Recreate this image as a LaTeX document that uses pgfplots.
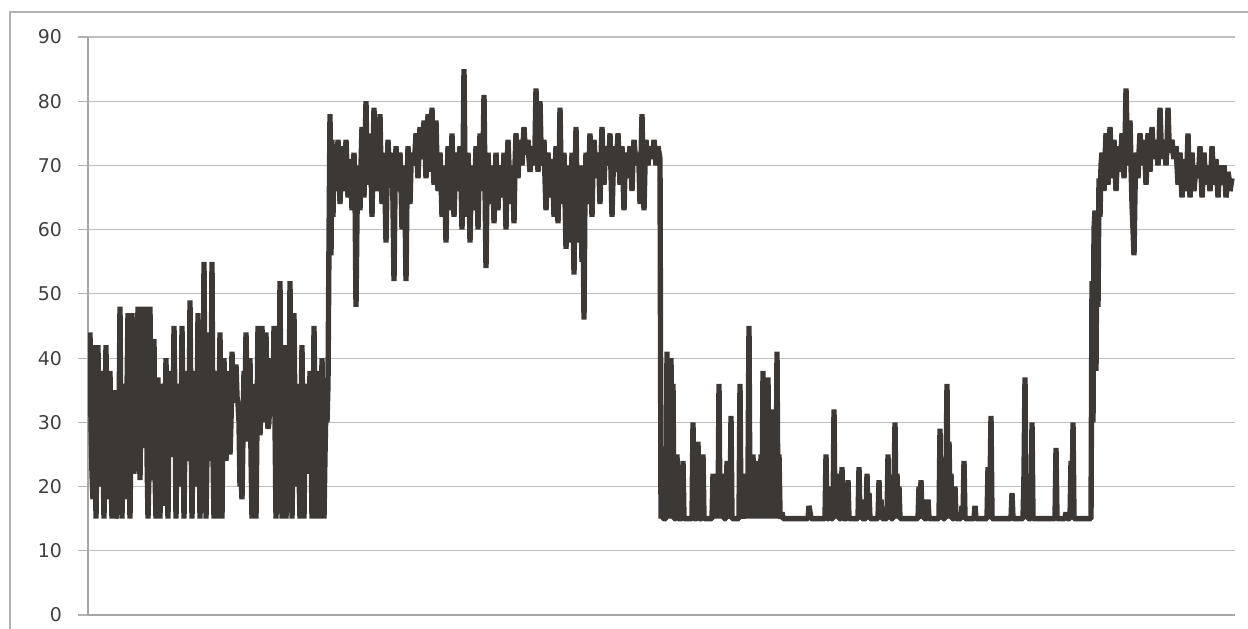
\documentclass[border=0pt]{standalone}
\usepackage{pgfplots}
\pgfplotsset{compat=1.18}
\usepackage{fontspec}
\setmainfont{DejaVu Sans}
\definecolor{ln}{RGB}{60,56,53}
\begin{document}
\begin{tikzpicture}
\begin{axis}[
 at={(0,0)}, anchor=south west,
 scale only axis, width=573.5bp, height=289bp,
 xmin=88, xmax=1235, ymin=0, ymax=90,
 ytick={0,10,...,90}, xtick=\empty,
 axis x line*=bottom, axis y line*=left,
 axis line style={gray!70, line width=0.6bp},
 ymajorgrids, grid style={gray!50, line width=0.6bp},
 tick align=outside, major tick length=5bp, tick style={gray!60, line width=0.6bp},
 yticklabel style={font=\fontsize{9.5}{11}\selectfont, text=black!75, xshift=-4.5bp},
 /pgf/number format/assume math mode=true,
]
\addplot[ln, line width=2.7pt, line join=bevel, line cap=butt] table {
x y
90 44
91 30
92 22
93 18
94 42
95 35
96 15
97 28
98 42
99 22
100 20
101 33
102 38
103 25
104 15
105 30
106 42
107 18
108 24
109 28
110 38
111 22
112 15
113 20
114 30
115 35
116 15
117 18
118 24
119 30
120 48
121 25
122 15
123 30
124 36
125 22
126 18
127 35
128 47
129 25
130 15
131 30
132 47
133 35
134 22
135 28
136 40
137 33
138 48
139 38
140 21
141 35
142 48
143 30
144 26
145 38
146 48
147 25
148 15
149 22
150 48
151 28
152 21
153 30
154 43
155 22
156 15
157 28
158 37
159 20
160 15
161 30
162 36
163 25
164 17
165 28
166 40
167 22
168 15
169 32
170 38
171 30
172 25
173 25
174 45
175 33
176 15
177 28
178 36
179 30
180 20
181 22
182 45
183 30
184 15
185 28
186 38
187 32
188 24
189 25
190 49
191 30
192 15
193 28
194 38
195 33
196 20
197 25
198 47
199 30
200 15
201 28
202 40
203 25
204 55
205 30
206 15
207 25
208 44
209 32
210 24
211 30
212 55
213 25
214 15
215 30
216 38
217 22
218 15
219 30
220 44
221 25
222 15
223 32
224 40
225 30
226 24
227 28
228 38
229 33
230 25
231 30
232 41
233 35
234 33
235 36
236 39
237 34
238 33
239 30
240 20
241 22
242 18
243 28
244 38
245 33
246 44
247 35
248 27
249 30
250 40
251 25
252 15
253 28
254 36
255 22
256 15
257 30
258 45
259 35
260 28
261 33
262 45
263 35
264 30
265 37
266 44
267 32
268 29
269 30
270 40
271 34
272 31
273 33
274 45
275 30
276 15
277 25
278 40
279 30
280 52
281 28
282 15
283 25
284 42
285 30
286 15
287 22
288 38
289 28
290 52
291 30
292 15
293 25
294 47
295 30
296 20
297 28
298 36
299 22
300 15
301 30
302 42
303 25
304 15
305 28
306 36
307 30
308 22
309 25
310 38
311 28
312 15
313 22
314 45
315 30
316 15
317 25
318 38
319 28
320 15
321 22
322 40
323 30
324 15
325 25
326 33
327 30
328 36
329 58
330 78
331 56
332 74
333 62
334 73
335 70
336 66
337 68
338 74
339 71
340 64
341 69
342 73
343 70
344 66
345 68
346 74
347 70
348 65
349 67
350 71
351 69
352 63
353 68
354 72
355 66
356 48
357 62
358 70
359 67
360 63
361 70
362 76
363 68
364 65
365 72
366 80
367 70
368 67
369 68
370 75
371 70
372 62
373 71
374 79
375 70
376 66
377 68
378 74
379 70
380 78
381 69
382 64
383 68
384 72
385 66
386 58
387 67
388 74
389 70
390 68
391 69
392 72
393 64
394 52
395 66
396 73
397 69
398 66
399 70
400 72
401 67
402 60
403 66
404 70
405 64
406 52
407 66
408 73
409 69
410 64
411 70
412 72
413 71
414 70
415 72
416 75
417 71
418 68
419 72
420 76
421 73
422 71
423 72
424 77
425 73
426 68
427 72
428 78
429 73
430 69
431 72
432 79
433 71
434 67
435 72
436 77
437 70
438 66
439 69
440 72
441 68
442 62
443 66
444 70
445 65
446 58
447 67
448 73
449 68
450 63
451 69
452 75
453 68
454 62
455 67
456 72
457 69
458 66
459 70
460 73
461 68
462 60
463 70
464 85
465 69
466 62
467 66
468 72
469 67
470 58
471 66
472 70
473 68
474 63
475 67
476 73
477 69
478 60
479 68
480 75
481 70
482 66
483 71
484 81
485 67
486 54
487 66
488 72
489 68
490 64
491 67
492 70
493 68
494 61
495 67
496 72
497 68
498 63
499 69
500 70
501 68
502 65
503 67
504 72
505 68
506 60
507 69
508 74
509 70
510 64
511 68
512 70
513 67
514 61
515 70
516 75
517 71
518 68
519 72
520 74
521 72
522 70
523 73
524 76
525 73
526 72
527 72
528 74
529 71
530 69
531 71
532 73
533 72
534 70
535 73
536 82
537 74
538 69
539 72
540 80
541 73
542 71
543 70
544 74
545 68
546 63
547 68
548 72
549 69
550 65
551 68
552 71
553 67
554 62
555 68
556 73
557 66
558 61
559 68
560 79
561 70
562 64
563 68
564 72
565 65
566 57
567 64
568 70
569 66
570 58
571 64
572 72
573 65
574 53
575 66
576 76
577 66
578 58
579 64
580 70
581 63
582 55
583 62
584 46
585 66
586 72
587 69
588 64
589 70
590 75
591 68
592 62
593 70
594 74
595 71
596 68
597 70
598 72
599 69
600 64
601 71
602 76
603 70
604 67
605 71
606 73
607 72
608 70
609 71
610 75
611 69
612 62
613 68
614 73
615 71
616 69
617 72
618 75
619 71
620 67
621 70
622 73
623 68
624 63
625 69
626 72
627 70
628 68
629 71
630 73
631 70
632 66
633 71
634 74
635 72
636 70
637 71
638 72
639 70
640 64
641 71
642 78
643 69
644 63
645 70
646 74
647 71
648 70
649 72
650 73
651 72
652 71
653 72
654 74
655 72
656 70
657 72
658 73
659 72
660 71
661 15
662 22
663 15
666 15
667 41
668 18
669 40
670 15
671 40
672 20
673 36
674 15
676 15
677 25
678 15
682 15
683 24
684 15
692 15
693 30
694 15
697 15
698 27
699 15
702 15
703 25
704 15
712 15
713 22
714 15
715 22
716 15
717 22
718 15
719 36
720 15
721 22
722 15
723 22
724 15
726 15
727 24
728 15
729 22
730 15
731 31
732 15
739 15
740 36
741 15
742 20
743 15
744 20
745 15
746 22
747 15
748 22
749 45
750 15
751 22
752 15
753 25
754 15
755 24
756 15
757 23
758 15
759 24
760 15
761 25
762 15
763 38
764 15
765 25
766 15
767 24
768 37
769 15
770 25
771 15
772 25
773 32
774 15
775 25
776 15
777 41
778 15
779 25
780 16
781 15
782 16
783 15
808 15
809 17
810 16
811 15
825 15
826 25
827 15
829 15
830 20
831 15
833 15
834 32
835 15
836 21
837 15
838 22
839 15
841 15
842 23
843 15
847 15
848 21
849 15
858 15
859 23
860 15
861 18
862 15
866 15
867 22
868 15
869 19
870 15
878 15
879 21
880 15
881 18
882 15
887 15
888 25
889 15
890 20
891 15
893 15
894 20
895 30
896 15
897 22
898 15
899 20
900 15
918 15
919 20
920 15
921 21
922 15
923 18
924 15
927 15
928 18
929 15
939 15
940 29
941 15
942 20
943 15
945 15
946 22
947 36
948 15
949 27
950 18
951 22
952 15
954 15
955 20
956 15
961 15
962 17
963 15
964 24
965 15
974 15
975 17
976 15
987 15
988 23
989 15
990 20
991 31
992 15
994 15
1011 15
1012 19
1013 15
1023 15
1024 22
1025 37
1026 15
1027 22
1028 15
1031 15
1032 30
1033 15
1055 15
1056 26
1057 15
1065 15
1066 16
1067 15
1070 15
1071 24
1072 15
1073 30
1074 15
1091 15
1092 52
1093 30
1094 60
1095 63
1096 38
1097 63
1098 48
1099 68
1100 62
1101 70
1102 72
1103 70
1104 66
1105 71
1106 75
1107 72
1108 67
1109 71
1110 76
1111 72
1112 68
1113 71
1114 74
1115 70
1116 66
1117 70
1118 73
1119 71
1120 69
1121 72
1122 75
1123 72
1124 68
1125 73
1126 82
1127 75
1128 70
1129 73
1130 77
1131 70
1132 64
1133 60
1134 56
1135 66
1136 72
1137 70
1138 68
1139 72
1140 75
1141 72
1142 70
1143 72
1144 74
1145 71
1146 67
1147 71
1148 75
1149 72
1150 69
1151 73
1152 76
1153 73
1154 71
1155 72
1156 74
1157 72
1158 70
1159 73
1160 79
1161 74
1162 71
1163 73
1164 74
1165 72
1166 70
1167 73
1168 79
1169 74
1170 72
1171 73
1172 74
1173 72
1174 71
1175 72
1176 73
1177 70
1178 67
1179 69
1180 72
1181 68
1182 65
1183 68
1184 71
1185 68
1186 66
1187 70
1188 75
1189 69
1190 65
1191 68
1192 72
1193 69
1194 66
1195 68
1196 70
1197 69
1198 68
1199 70
1200 73
1201 69
1202 65
1203 68
1204 72
1205 69
1206 67
1207 69
1208 70
1209 68
1210 66
1211 69
1212 73
1213 70
1214 67
1215 69
1216 71
1217 68
1218 65
1219 68
1220 70
1221 68
1222 67
1223 68
1224 70
1225 68
1226 65
1227 67
1228 69
1229 68
1230 66
1231 67
1232 68
};
\end{axis}
\draw[gray!60, line width=0.8bp] (-39bp,-30bp) rectangle (640bp,301.5bp);
\pgfresetboundingbox
\useasboundingbox (-44bp,-7bp) rectangle (580bp,307.5bp);
\end{tikzpicture}
\end{document}
